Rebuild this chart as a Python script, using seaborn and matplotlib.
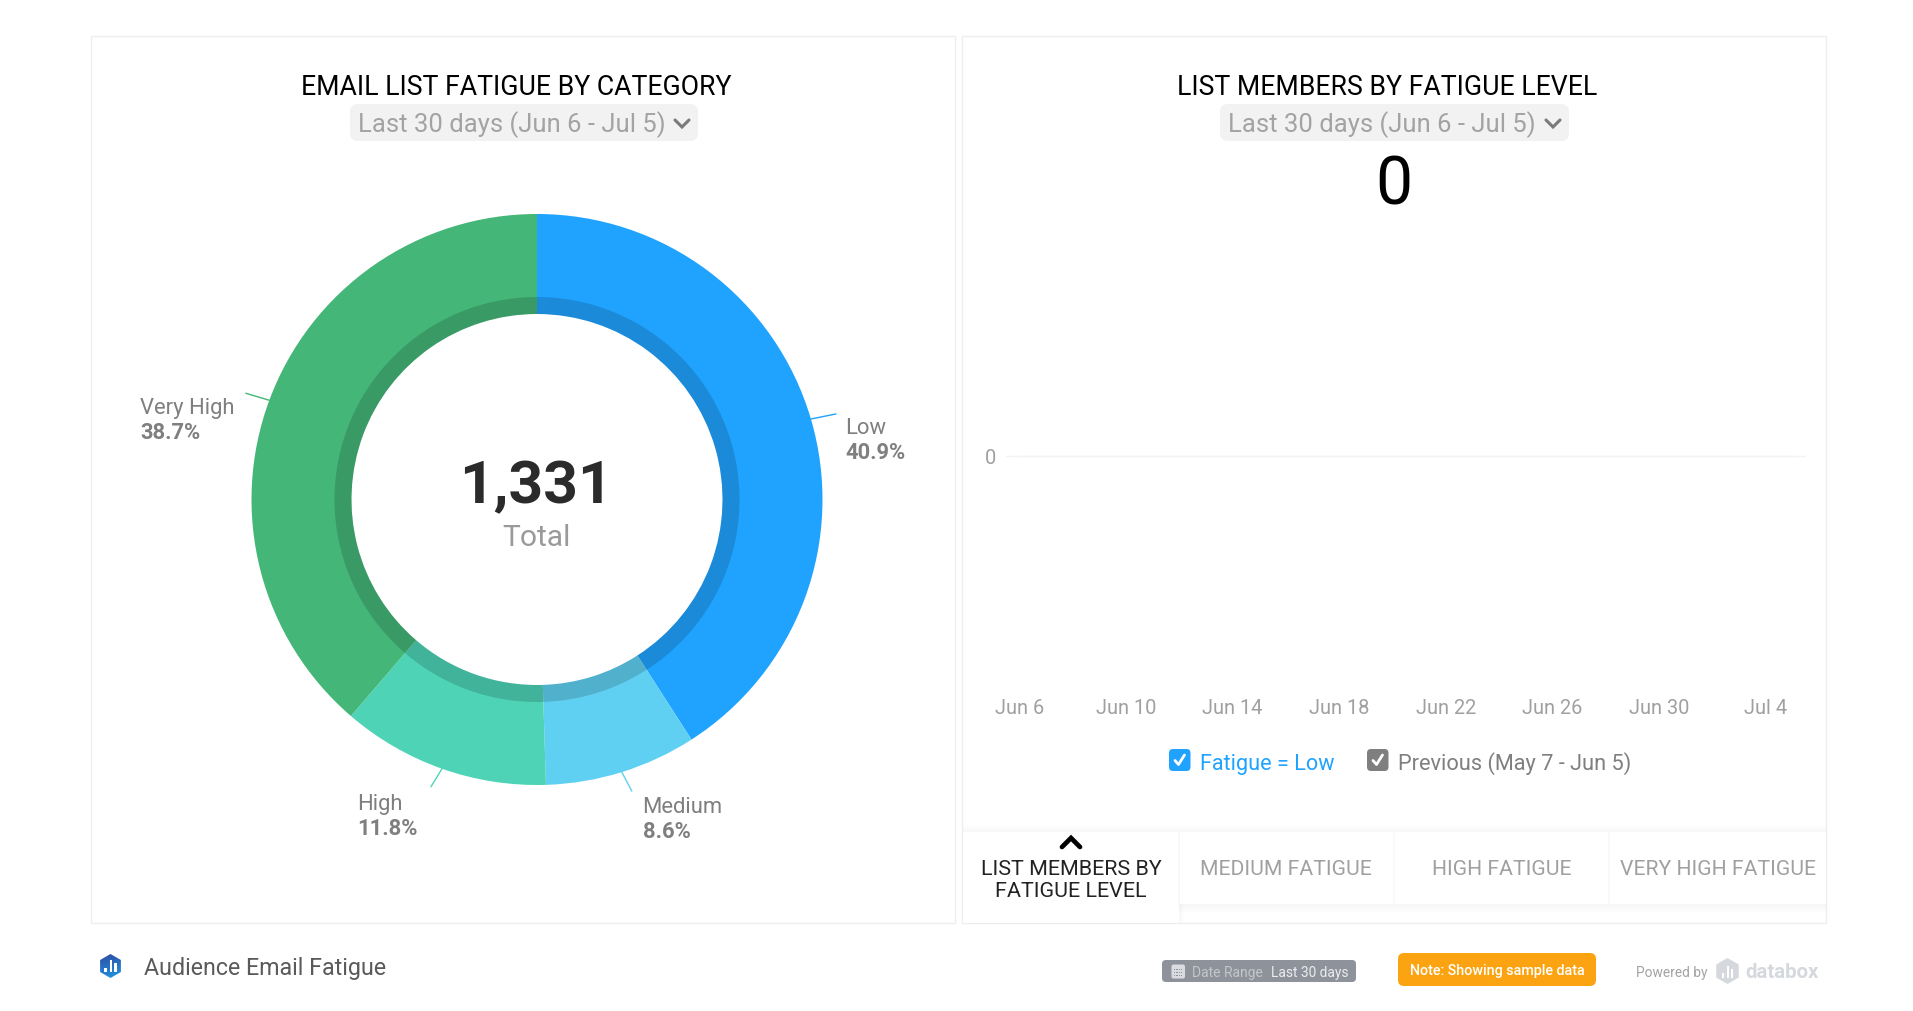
import numpy as np
import pandas as pd
import matplotlib
matplotlib.use("Agg")
import matplotlib.pyplot as plt
from matplotlib.patches import FancyBboxPatch, Rectangle, RegularPolygon
import seaborn as sns

# ---- data ----
categories = ["Low", "Medium", "High", "Very High"]
shares = [40.9, 8.6, 11.8, 38.7]
total_members = 1331
slice_colors = ["#1FA3FF", "#60D0F2", "#4ED3B7", "#44B677"]
day_labels = ["Jun 6", "Jun 10", "Jun 14", "Jun 18", "Jun 22", "Jun 26", "Jun 30", "Jul 4"]
day_numbers = list(range(30))
low_fatigue_members = [0] * 30
y_ticks = [0]
tab_names = ["MEDIUM FATIGUE", "HIGH FATIGUE", "VERY HIGH FATIGUE"]
period = "Last 30 days (Jun 6 - Jul 5)"

W, H = 1913, 1012
sns.set_theme(style="white")
plt.rcParams["font.family"] = ["Roboto", "DejaVu Sans"]
fig = plt.figure(figsize=(W / 100, H / 100), dpi=100, facecolor="white")


def px_axes(x, y, w, h, **kw):
    return fig.add_axes([x / W, 1 - (y + h) / H, w / W, h / H], **kw)


def pt(px):
    return px * 0.72


# chrome layer in pixel coordinates
bg = px_axes(0, 0, W, H)
bg.axis("off")


def rrect(x0, y0, x1, y1, r, color, z=2):
    bg.add_patch(FancyBboxPatch((x0 + r, y0 + r), x1 - x0 - 2 * r, y1 - y0 - 2 * r,
                                boxstyle=f"round,pad={r},rounding_size={r}",
                                fc=color, ec="none", zorder=z))


def txt(x, y, s, px, color, ha="center", weight="normal", z=5):
    bg.text(x, y, s, fontsize=pt(px), color=color, ha=ha, va="center_baseline",
            fontweight=weight, zorder=z)


BORDER = "#EEEEEE"
for x0, x1 in [(91, 954.5), (962, 1826)]:
    bg.add_patch(Rectangle((x0, 36.5), x1 - x0, 887.5, fc="white", ec=BORDER, lw=1.0, zorder=1))

# headers
txt(516.5, 84, "EMAIL LIST FATIGUE BY CATEGORY", 26.6, "#000000")
txt(1387.5, 84, "LIST MEMBERS BY FATIGUE LEVEL", 26.6, "#000000")
for x0, x1 in [(350, 698), (1220, 1569)]:
    rrect(x0, 105, x1, 142, 8, "#F2F2F2")
    txt(x0 + 7.5, 122, period, 25.6, "#A3A3A3", ha="left")
    cx = x1 - 16
    bg.plot([cx - 7, cx, cx + 7], [121, 128, 121], color="#7A7A7A", lw=2.2, zorder=5,
            solid_capstyle="round", solid_joinstyle="miter")
txt(1394, 179, "0", 66, "#000000")

# donut
cx, cy, R, r_dark, r_in = 537, 500.5, 285.5, 202.5, 185.5
pie_ax = px_axes(cx - 320, cy - 320, 640, 640)
pie_ax.pie(shares, colors=slice_colors, startangle=90, counterclock=False, radius=R,
           wedgeprops=dict(width=R - r_in, linewidth=0))
pie_ax.pie([sum(shares)], colors=["black"], startangle=90, radius=r_dark,
           wedgeprops=dict(width=r_dark - r_in, linewidth=0, alpha=0.15))
pie_ax.set_xlim(-320, 320)
pie_ax.set_ylim(-320, 320)
pie_ax.set_aspect("equal")
pie_ax.axis("off")

shares_arr = np.array(shares)
mid = (np.cumsum(shares_arr) - shares_arr / 2) / shares_arr.sum() * 2 * np.pi
leader_offset = {"Low": (25, 5), "Medium": (10, -19), "High": (-11, -18), "Very High": (-23.5, 7)}
for name, a, c in zip(categories, mid, slice_colors):
    sx, sy = R * np.sin(a), R * np.cos(a)
    dx, dy = leader_offset[name]
    pie_ax.plot([sx, sx + dx], [sy, sy + dy], color=c, lw=1.0)

label_pos = {"Low": (845.5, 426), "Medium": (642.5, 805.5), "High": (357.5, 802), "Very High": (140, 406)}
for name, share in zip(categories, shares):
    lx, ly = label_pos[name]
    txt(lx, ly, name, 22, "#7F7F7F", ha="left")
    txt(lx, ly + 24.5, f"{share}%", 22, "#7F7F7F", ha="left", weight="bold")
txt(536, 481, f"{total_members:,}", 60.5, "#2B2B2B", weight="bold")
txt(536.5, 535, "Total", 30, "#9A9A9A")

# line chart (all zeros)
df = pd.DataFrame({"day": day_numbers, "members": low_fatigue_members})
line_ax = px_axes(1006, 227, 800, 460)
sns.lineplot(data=df, x="day", y="members", ax=line_ax, color="#F3F3F3", lw=1.0, legend=False)
line_ax.set_xlim(-0.5, 29.5)
line_ax.set_ylim(-1, 1)
line_ax.set_xticks(day_numbers[::4][:len(day_labels)], day_labels)
line_ax.set_yticks(y_ticks)
line_ax.set_xlabel("")
line_ax.set_ylabel("")
line_ax.grid(axis="y", color="#F3F3F3", lw=1.0)
line_ax.patch.set_alpha(0)
sns.despine(ax=line_ax, left=True, bottom=True)
line_ax.tick_params(axis="x", length=0, pad=9, labelsize=pt(20), labelcolor="#A0A0A0")
line_ax.tick_params(axis="y", length=0, pad=7, labelsize=pt(20), labelcolor="#A0A0A0")

# legend
def checkbox(x0, color):
    rrect(x0, 750, x0 + 21.5, 772, 4, color)
    bg.plot([x0 + 6, x0 + 9.5, x0 + 15.5], [761.5, 765.5, 756], color="white", lw=2, zorder=5,
            solid_capstyle="round")

checkbox(1169, "#1FA3FF")
txt(1199.5, 762, "Fatigue = Low", 21.6, "#1FA3FF", ha="left")
checkbox(1367, "#7F7F7F")
txt(1397.5, 760.8, "Previous (May 7 - Jun 5)", 21.8, "#7F7F7F", ha="left")

# tabs
for i in range(8):
    a = 0.0035
    bg.add_patch(Rectangle((963, 833 - i), 863, i + 1, fc="black", ec="none", alpha=a, zorder=1.5))
    bg.add_patch(Rectangle((1178.5, 905), 647, i + 1.5, fc="black", ec="none", alpha=a, zorder=1.5))
    bg.add_patch(Rectangle((1178.5, 905), i * 0.6 + 1, 18.5, fc="black", ec="none", alpha=a, zorder=1.5))
bg.add_patch(Rectangle((963, 833), 215.5, 90.5, fc="white", ec="none", zorder=2))
for x0, x1 in [(1178.5, 1393.7), (1393.7, 1609), (1609, 1825.5)]:
    bg.add_patch(Rectangle((x0, 833), x1 - x0, 72, fc="white", ec="none", zorder=2))
for x in [1178.5, 1393.7, 1609]:
    bg.plot([x, x], [833, 905], color="#F8F8F8", lw=1.2, zorder=3)
bg.plot([1062, 1071, 1080], [848, 839, 848], color="black", lw=3.4, zorder=5,
        solid_joinstyle="miter", solid_capstyle="round")
txt(1071, 867.5, "LIST MEMBERS BY", 21.5, "#222222")
txt(1071, 890, "FATIGUE LEVEL", 21.5, "#222222")
for x, name in zip([1286, 1502, 1718], tab_names):
    txt(x, 867.5, name, 21.2, "#A0A0A0")

# footer
gradient = np.linspace(0, 1, 64).reshape(-1, 1) + np.linspace(0, 0.25, 64).reshape(1, -1)
logo_cmap = matplotlib.colors.LinearSegmentedColormap.from_list("logo", ["#31479F", "#1E9BE6"])
logo_hex = RegularPolygon((110.5, 967), 6, radius=12, orientation=0, fc="none", ec="none", zorder=3)
bg.add_patch(logo_hex)
im = bg.imshow(gradient, cmap=logo_cmap, extent=(98, 123, 980, 954), aspect="auto", zorder=3)
im.set_clip_path(logo_hex)
for dx, h in [(-5, 4), (0.5, 12), (5, 9)]:
    bg.add_patch(Rectangle((110.5 + dx - 1.3, 973 - h), 2.6, h, fc="white", ec="none", zorder=4))
txt(144, 966, "Audience Email Fatigue", 23.2, "#5A5A5A", ha="left")

rrect(1162, 961, 1356, 983, 4, "#8E929B")
rrect(1171.5, 965.5, 1185, 979.5, 2, "#DADCE0", z=4)
for row in range(3):
    for col in range(4):
        bg.add_patch(Rectangle((1174 + col * 2.3, 970 + row * 2.8), 1.3, 1.3, fc="#8E929B", ec="none", zorder=4.5))
txt(1192, 972, "Date Range", 13.9, "#C4C6CB", ha="left")
txt(1271, 972, "Last 30 days", 13.7, "#ECECEE", ha="left")
rrect(1398, 954, 1596, 987, 6, "#FBA311")
txt(1497, 970, "Note: Showing sample data", 14.2, "white", weight="medium")
txt(1636.5, 972, "Powered by", 13.8, "#A3A3A3", ha="left")
bg.add_patch(RegularPolygon((1727.5, 972), 6, radius=13, orientation=0, fc="#D5D9DD", ec="none", zorder=3))
for dx, h in [(-4.5, 5), (0.3, 12), (4.5, 9)]:
    bg.add_patch(Rectangle((1727.5 + dx - 1.3, 979 - h), 2.6, h, fc="white", ec="none", zorder=4))
txt(1745, 971, "databox", 20.4, "#D5D9DD", ha="left", weight="bold")

bg.set_xlim(0, W)
bg.set_ylim(H, 0)
fig.savefig("out.png", dpi=100)
